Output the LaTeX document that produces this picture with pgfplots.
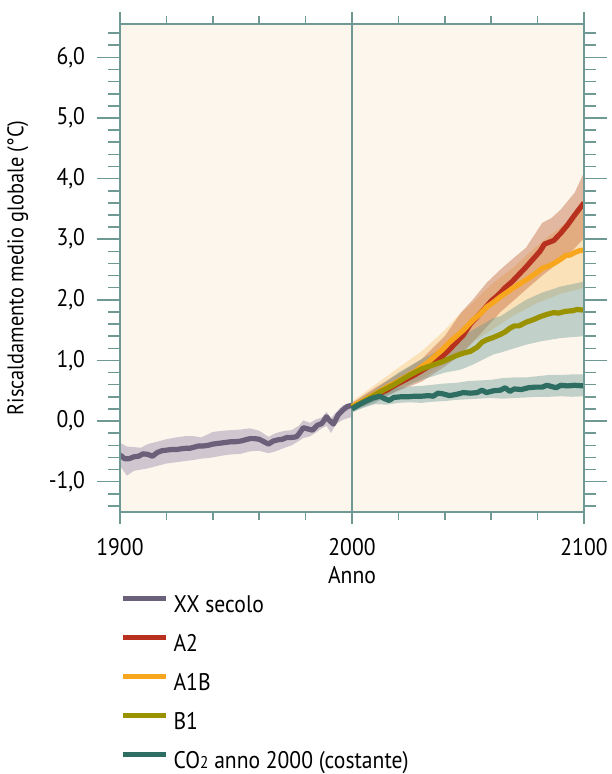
\documentclass[border=0pt]{standalone}
\usepackage{pgfplots}
\pgfplotsset{compat=1.18}
\usepgfplotslibrary{fillbetween}
\usepackage{pgfplotstable}
\usepackage{fontspec}
\setmainfont{PT Sans}[FakeStretch=0.9]
\definecolor{axcol}{RGB}{111,154,148}
\definecolor{bgcol}{RGB}{253,246,236}
\definecolor{xxcol}{RGB}{107,96,122}
\definecolor{xxband}{RGB}{207,198,207}
\definecolor{a2col}{RGB}{184,48,30}
\definecolor{a1bcol}{RGB}{247,166,30}
\definecolor{b1col}{RGB}{155,146,0}
\definecolor{co2col}{RGB}{46,110,98}
\definecolor{a2band}{RGB}{190,93,46}
\definecolor{gband}{RGB}{105,151,146}

\pgfplotstableread{
x y
1900 -0.56
1902 -0.62
1904 -0.62
1906 -0.59
1908 -0.58
1910 -0.54
1912 -0.55
1914 -0.58
1916 -0.52
1918 -0.49
1920 -0.48
1922 -0.47
1924 -0.47
1926 -0.46
1928 -0.45
1930 -0.45
1932 -0.43
1934 -0.41
1936 -0.41
1938 -0.40
1940 -0.38
1942 -0.37
1944 -0.36
1946 -0.35
1948 -0.34
1950 -0.34
1952 -0.33
1954 -0.31
1956 -0.29
1958 -0.29
1960 -0.30
1962 -0.34
1964 -0.38
1966 -0.33
1968 -0.31
1970 -0.30
1972 -0.27
1974 -0.27
1976 -0.26
1977 -0.22
1979 -0.11
1981 -0.13
1983 -0.15
1985 -0.07
1987 -0.04
1989 0.07
1990 0.02
1992 -0.05
1994 0.10
1996 0.18
1998 0.24
2000 0.26
}\xxline

\pgfplotstableread{
x lo hi
1900 -0.74 -0.36
1903 -0.90 -0.42
1906 -0.82 -0.43
1909 -0.80 -0.44
1912 -0.78 -0.38
1916 -0.74 -0.34
1920 -0.70 -0.30
1924 -0.68 -0.27
1928 -0.66 -0.25
1932 -0.64 -0.25
1935 -0.62 -0.27
1940 -0.60 -0.18
1944 -0.57 -0.16
1948 -0.55 -0.15
1952 -0.54 -0.14
1956 -0.50 -0.12
1960 -0.49 -0.16
1964 -0.53 -0.26
1967 -0.50 -0.20
1971 -0.44 -0.16
1974 -0.40 -0.15
1977 -0.33 -0.08
1979 -0.28 0.01
1982 -0.25 -0.03
1984 -0.20 0.02
1987 -0.12 0.06
1989 -0.08 0.15
1991 -0.20 0.05
1993 -0.05 0.14
1996 0.02 0.26
2000 0.07 0.31
}\xxbandtab

\pgfplotstableread{
x lo hi
2000 0.17 0.30
2010 0.33 0.55
2020 0.50 0.78
2030 0.65 1.02
2040 0.90 1.40
2047 1.10 1.79
2052 1.30 2.00
2058 1.55 2.28
2064 1.80 2.50
2070 2.00 2.70
2075 2.17 2.86
2082 2.40 3.27
2086 2.52 3.35
2090 2.65 3.49
2096 2.85 3.77
2100 3.02 4.10
}\atwoband

\pgfplotstableread{
x lo hi
2000 0.18 0.32
2010 0.35 0.60
2020 0.52 0.88
2030 0.70 1.15
2040 0.95 1.50
2046 1.10 1.75
2052 1.30 1.95
2060 1.50 2.25
2070 1.75 2.55
2080 1.95 2.90
2090 2.10 3.20
2100 2.20 3.50
}\aoneband

\pgfplotstableread{
x lo hi
2000 0.16 0.28
2010 0.30 0.52
2020 0.52 0.80
2030 0.68 1.02
2040 0.80 1.22
2047 0.85 1.40
2052 0.93 1.50
2061 1.10 1.70
2064 1.13 1.73
2075 1.26 2.00
2082 1.32 2.12
2090 1.37 2.22
2100 1.40 2.30
}\boneband

\pgfplotstableread{
x lo hi
2000 0.14 0.26
2005 0.22 0.40
2010 0.28 0.50
2015 0.27 0.53
2020 0.30 0.55
2025 0.31 0.57
2030 0.30 0.58
2035 0.32 0.60
2040 0.33 0.62
2045 0.35 0.63
2050 0.36 0.66
2055 0.37 0.67
2060 0.38 0.68
2065 0.37 0.71
2070 0.38 0.72
2075 0.39 0.72
2080 0.40 0.74
2085 0.40 0.76
2090 0.41 0.76
2095 0.40 0.77
2100 0.41 0.77
}\cotwoband

\pgfplotstableread{
x y
2000 0.22
2003 0.28
2006 0.33
2009 0.40
2012 0.46
2015 0.51
2018 0.58
2021 0.64
2024 0.70
2027 0.76
2030 0.83
2033 0.90
2036 0.98
2039 1.07
2042 1.18
2045 1.30
2048 1.42
2051 1.60
2054 1.72
2057 1.85
2060 1.98
2063 2.08
2066 2.20
2069 2.30
2072 2.42
2075 2.54
2078 2.67
2081 2.80
2083 2.92
2085 2.95
2087 2.98
2090 3.10
2093 3.24
2096 3.40
2098 3.50
2100 3.60
}\atwoline

\pgfplotstableread{
x y
2000 0.24
2003 0.30
2006 0.36
2009 0.43
2012 0.49
2015 0.56
2018 0.62
2021 0.68
2024 0.75
2027 0.81
2030 0.90
2033 0.98
2036 1.08
2039 1.18
2042 1.30
2045 1.40
2048 1.50
2050 1.58
2052 1.66
2055 1.76
2058 1.88
2061 1.96
2064 2.05
2067 2.13
2070 2.21
2073 2.28
2076 2.35
2079 2.43
2082 2.52
2085 2.56
2087 2.60
2090 2.67
2092 2.73
2094 2.74
2096 2.78
2098 2.81
2100 2.82
}\aoneline

\pgfplotstableread{
x y
2000 0.22
2003 0.28
2006 0.34
2009 0.41
2012 0.48
2015 0.54
2018 0.60
2021 0.67
2024 0.74
2027 0.80
2030 0.86
2033 0.90
2036 0.94
2039 0.98
2042 1.03
2045 1.08
2048 1.12
2051 1.15
2054 1.22
2056 1.30
2058 1.34
2061 1.38
2064 1.43
2066 1.47
2068 1.53
2070 1.57
2072 1.57
2075 1.63
2078 1.67
2081 1.72
2084 1.76
2087 1.79
2089 1.78
2092 1.81
2095 1.82
2097 1.84
2100 1.83
}\boneline

\pgfplotstableread{
x y
2000 0.20
2003 0.27
2006 0.33
2009 0.38
2012 0.41
2014 0.37
2016 0.34
2018 0.39
2021 0.40
2024 0.40
2027 0.41
2030 0.41
2033 0.42
2035 0.41
2037 0.46
2039 0.45
2042 0.42
2045 0.44
2048 0.47
2051 0.46
2054 0.47
2056 0.51
2058 0.47
2061 0.50
2064 0.51
2066 0.55
2068 0.49
2070 0.53
2073 0.52
2076 0.55
2079 0.56
2082 0.56
2084 0.59
2086 0.57
2088 0.55
2090 0.59
2093 0.58
2096 0.59
2100 0.58
}\cotwoline

\begin{document}
\begin{tikzpicture}[font=\fontsize{12}{14}\selectfont]
\pgfplotsset{
  base/.style={scale only axis, width=232pt, height=244pt,
    xmin=1900, xmax=2100, ymin=-1.5, ymax=6.55,
    at={(0,0)}, anchor=south west,
    axis line style={axcol, line width=1pt},
    tick style={axcol, line width=0.8pt},
    tick align=outside},
}
\begin{axis}[base,
  axis background/.style={fill=bgcol},
  xtick=\empty,
  ytick={-1,0,1,2,3,4,5,6},
  yticklabels={{-1,0},{0,0},{1,0},{2,0},{3,0},{4,0},{5,0},{6,0}},
  minor ytick={-1.4,-1.2,-0.8,-0.6,-0.4,-0.2,0.2,0.4,0.6,0.8,1.2,1.4,1.6,1.8,2.2,2.4,2.6,2.8,3.2,3.4,3.6,3.8,4.2,4.4,4.6,4.8,5.2,5.4,5.6,5.8,6.2,6.4},
  ytick pos=both, yticklabel pos=left,
  major tick length=11.5pt, minor tick length=6pt,
  yticklabel style={anchor=east, xshift=-2.5pt},
  ylabel={Riscaldamento medio globale (°C)},
  ylabel style={at={(axis description cs:-0.22,0.5)}, anchor=center, font=\fontsize{11.3}{13}\selectfont},
  legend cell align=left,
  legend style={at={(axis description cs:0,0)}, anchor=north west, yshift=-41pt,
    draw=none, fill=none, inner sep=0pt, row sep=7.5pt, column sep=2.5pt,
    nodes={inner sep=0pt, text height=9pt, text depth=3pt}},
  legend image code/.code={\draw[#1] (0pt,4pt) -- (21.5pt,4pt);},
]
\draw[axcol, line width=1pt] (axis cs:2000,-1.5) -- (axis cs:2000,6.55);
% bands
\addplot[name path=xxl, draw=none, forget plot] table[x=x,y=lo]{\xxbandtab};
\addplot[name path=xxh, draw=none, forget plot] table[x=x,y=hi]{\xxbandtab};
\addplot[fill=xxband, draw=none, forget plot] fill between[of=xxl and xxh];
\addplot[name path=a1l, draw=none, forget plot] table[x=x,y=lo]{\aoneband};
\addplot[name path=a1h, draw=none, forget plot] table[x=x,y=hi]{\aoneband};
\addplot[fill=a1bcol, fill opacity=0.25, draw=none, forget plot] fill between[of=a1l and a1h];
\addplot[name path=a2l, draw=none, forget plot] table[x=x,y=lo]{\atwoband};
\addplot[name path=a2h, draw=none, forget plot] table[x=x,y=hi]{\atwoband};
\addplot[fill=a2band, fill opacity=0.4, draw=none, forget plot] fill between[of=a2l and a2h];
\addplot[name path=b1l, draw=none, forget plot] table[x=x,y=lo]{\boneband};
\addplot[name path=b1h, draw=none, forget plot] table[x=x,y=hi]{\boneband};
\addplot[fill=gband, fill opacity=0.4, draw=none, forget plot] fill between[of=b1l and b1h];
\addplot[name path=col, draw=none, forget plot] table[x=x,y=lo]{\cotwoband};
\addplot[name path=coh, draw=none, forget plot] table[x=x,y=hi]{\cotwoband};
\addplot[fill=gband, fill opacity=0.4, draw=none, forget plot] fill between[of=col and coh];
% lines
\addplot[xxcol, line width=2.6pt, line join=round] table[x=x,y=y]{\xxline};
\addlegendentry{XX secolo}
\addplot[a2col, line width=2.6pt, line join=round] table[x=x,y=y]{\atwoline};
\addlegendentry{A2}
\addplot[a1bcol, line width=2.6pt, line join=round] table[x=x,y=y]{\aoneline};
\addlegendentry{A1B}
\addplot[b1col, line width=2.6pt, line join=round] table[x=x,y=y]{\boneline};
\addlegendentry{B1}
\addplot[co2col, line width=2.6pt, line join=round] table[x=x,y=y]{\cotwoline};
\addlegendentry{CO{\fontsize{8.5}{9}\selectfont 2} anno 2000 (costante)}
\end{axis}
\begin{axis}[base,
  ytick=\empty,
  xtick={1900,2000,2100},
  xticklabels={1900,2000,2100},
  minor xtick={1920,1940,1960,1980,2020,2040,2060,2080},
  xtick pos=both, xticklabel pos=bottom,
  major tick length=6pt, minor tick length=4pt,
  xticklabel style={yshift=-3.5pt},
  xlabel={Anno},
  xlabel style={at={(axis description cs:0.5,0)}, anchor=center, yshift=-31.5pt},
]
\addplot[draw=none, forget plot] coordinates {(1900,-1.5) (2100,6.55)};
\end{axis}
\pgfresetboundingbox
\path (-60pt,-131pt) rectangle (245.5pt,256pt);
\end{tikzpicture}
\end{document}
